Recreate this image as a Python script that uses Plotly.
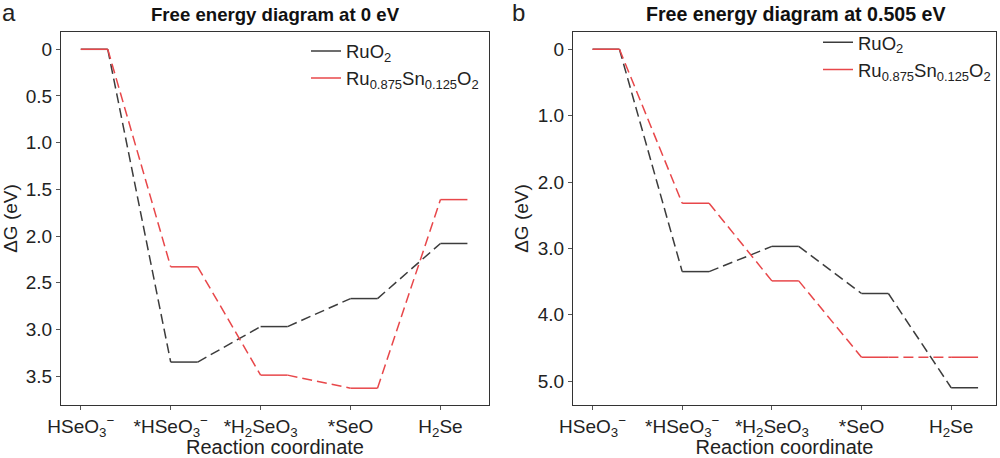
import plotly.graph_objects as go

# ---------------- data ----------------
steps = ["HSeO<sub>3</sub><sup>−</sup>", "*HSeO<sub>3</sub><sup>−</sup>",
         "*H<sub>2</sub>SeO<sub>3</sub>", "*SeO", "H<sub>2</sub>Se"]
ruo2_0v = [0, 3.35, 2.97, 2.67, 2.08]
rusn_0v = [0, 2.33, 3.49, 3.63, 1.61]
ruo2_0505v = [0, 3.35, 2.97, 3.68, 5.10]
rusn_0505v = [0, 2.32, 3.49, 4.64, 4.64]
series_names = ["RuO<sub>2</sub>", "Ru<sub>0.875</sub>Sn<sub>0.125</sub>O<sub>2</sub>"]
yticks_a = [0, 0.5, 1.0, 1.5, 2.0, 2.5, 3.0, 3.5]
yticklabels_a = ["0", "0.5", "1.0", "1.5", "2.0", "2.5", "3.0", "3.5"]
yticks_b = [0, 1.0, 2.0, 3.0, 4.0, 5.0]
yticklabels_b = ["0", "1.0", "2.0", "3.0", "4.0", "5.0"]
titles = ["Free energy diagram at 0 eV", "Free energy diagram at 0.505 eV"]

# ---------------- style ----------------
COLORS = ["#3C3C3C", "#E8474A"]
LEVEL_W = 0.3
FONT = "Arial, Liberation Sans, sans-serif"
LW = 1.5

fig = go.Figure()


def add_series(values, name, color, xa, ya, legend, group):
    lx, ly, cx, cy = [], [], [], []
    for i, v in enumerate(values):
        lx += [i, i + LEVEL_W, None]
        ly += [v, v, None]
        if i + 1 < len(values):
            cx += [i + LEVEL_W, i + 1, None]
            cy += [v, values[i + 1], None]
    fig.add_trace(go.Scatter(x=cx, y=cy, mode="lines", xaxis=xa, yaxis=ya,
                             line=dict(color=color, width=LW, dash="10px,5px"),
                             showlegend=False, hoverinfo="skip", legendgroup=group))
    fig.add_trace(go.Scatter(x=lx, y=ly, mode="lines", xaxis=xa, yaxis=ya,
                             name=name, legend=legend, legendgroup=group,
                             line=dict(color=color, width=LW)))


add_series(ruo2_0v, series_names[0], COLORS[0], "x", "y", "legend", "a1")
add_series(rusn_0v, series_names[1], COLORS[1], "x", "y", "legend", "a2")
add_series(ruo2_0505v, series_names[0], COLORS[0], "x2", "y2", "legend2", "b1")
add_series(rusn_0505v, series_names[1], COLORS[1], "x2", "y2", "legend2", "b2")

ax_common = dict(showline=True, mirror=True, linecolor="#333333", linewidth=1.2,
                 ticks="outside", ticklen=4, tickcolor="#555555", showgrid=False,
                 zeroline=False, automargin=False,
                 tickfont=dict(family=FONT, size=19, color="#222222"))

fig.update_layout(
    width=1000, height=458, autosize=False,
    margin=dict(l=0, r=0, t=0, b=0, autoexpand=False),
    plot_bgcolor="white", paper_bgcolor="white",
    font=dict(family=FONT, color="#222222"),
    xaxis=dict(domain=[0.061, 0.489], range=[-0.22, 4.54],
               tickvals=list(range(len(steps))), ticktext=steps,
               title=dict(text="Reaction coordinate", font=dict(size=20), standoff=3),
               anchor="y", **ax_common),
    yaxis=dict(domain=[0.1157, 0.9301], range=[3.81, -0.185],
               tickvals=yticks_a, ticktext=yticklabels_a,
               title=dict(text="ΔG (eV)", font=dict(size=19), standoff=4),
               anchor="x", **ax_common),
    xaxis2=dict(domain=[0.573, 0.996], range=[-0.218, 4.5],
                tickvals=list(range(len(steps))), ticktext=steps,
                title=dict(text="Reaction coordinate", font=dict(size=20), standoff=3),
                anchor="y2", **ax_common),
    yaxis2=dict(domain=[0.1157, 0.9301], range=[5.36, -0.26],
                tickvals=yticks_b, ticktext=yticklabels_b,
                title=dict(text="ΔG (eV)", font=dict(size=19), standoff=4),
                anchor="x2", **ax_common),
    legend=dict(x=0.306, y=0.929, xanchor="left", yanchor="top",
                bgcolor="rgba(255,255,255,0)", font=dict(size=18.5, family=FONT),
                tracegroupgap=0),
    legend2=dict(x=0.818, y=0.948, xanchor="left", yanchor="top",
                 bgcolor="rgba(255,255,255,0)", font=dict(size=18.5, family=FONT),
                 tracegroupgap=0),
)

fig.add_annotation(text="<b>%s</b>" % titles[0], xref="paper", yref="paper",
                   x=0.275, y=0.969, xanchor="center", yanchor="middle",
                   showarrow=False, font=dict(size=18.6, family=FONT, color="#111111"))
fig.add_annotation(text="<b>%s</b>" % titles[1], xref="paper", yref="paper",
                   x=0.796, y=0.969, xanchor="center", yanchor="middle",
                   showarrow=False, font=dict(size=19.6, family=FONT, color="#111111"))
fig.add_annotation(text="a", xref="paper", yref="paper", x=0.0, y=0.972,
                   xanchor="left", yanchor="middle", showarrow=False,
                   font=dict(size=24, family=FONT, color="#222222"))
fig.add_annotation(text="b", xref="paper", yref="paper", x=0.510, y=0.972,
                   xanchor="left", yanchor="middle", showarrow=False,
                   font=dict(size=24, family=FONT, color="#222222"))

fig.write_html("out.html", config={"displayModeBar": False},
               post_script="document.body.style.margin='0px';")
